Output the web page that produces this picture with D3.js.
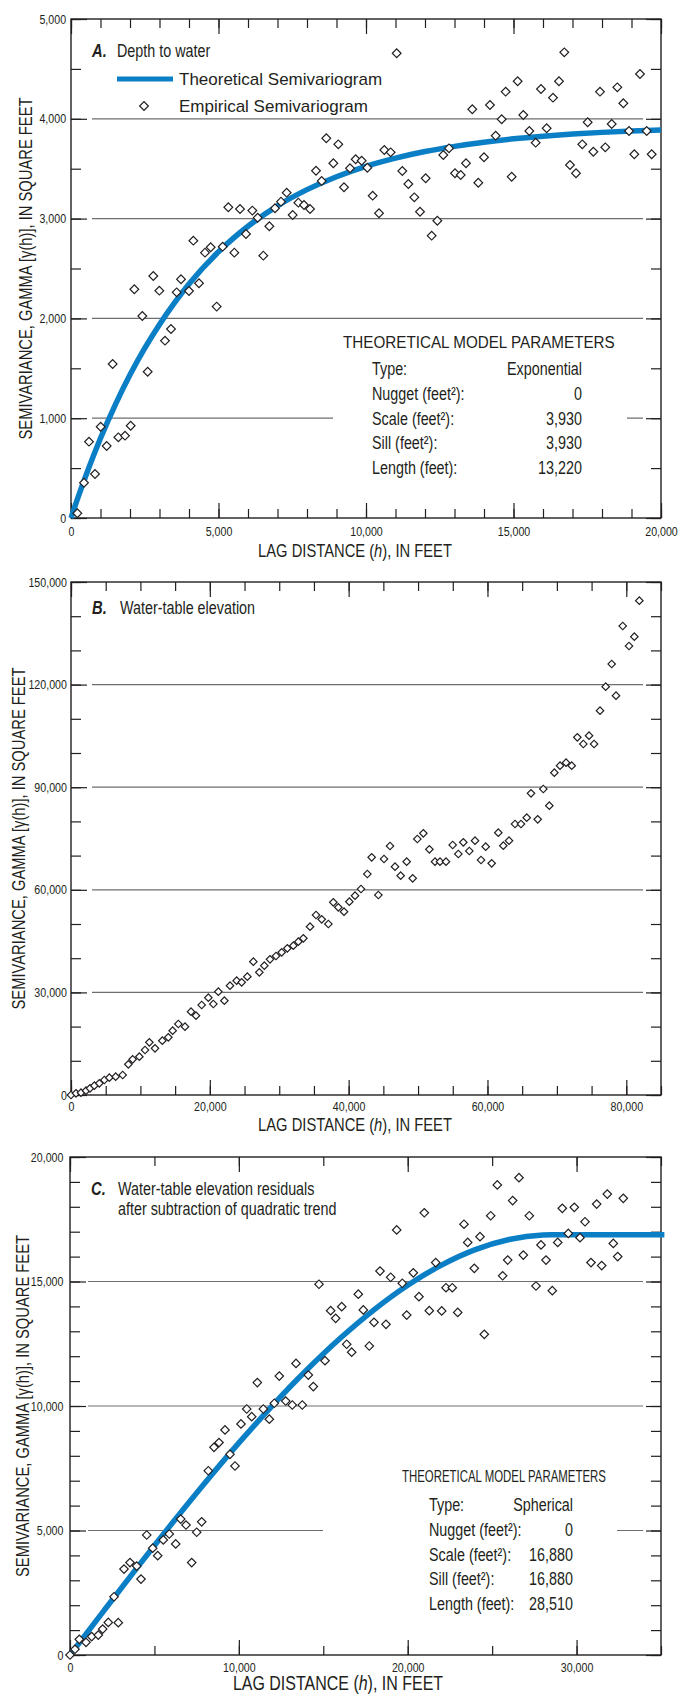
<!DOCTYPE html>
<html>
<head>
<meta charset="utf-8">
<script src="https://cdn.jsdelivr.net/npm/d3@7"></script>
<style>
  body { margin: 0; background: #fff; }
  svg text { font-family: "Liberation Sans", Arial, sans-serif; fill: #231f20; }
  .tick text { font-size: 13px; }
</style>
</head>
<body>
<svg id="fig" width="678" height="1695"></svg>
<script>
// ---- A. depth to water ----
const depthLag = [215,441,610,814,1006,1209,1412,1605,1831,2023,2147,2418,2599,2790,2994,3186,3390,3582,3729,4000,
  4147,4339,4542,4735,4938,5141,5333,5537,5729,5932,6147,6328,6519,6723,6915,7119,7311,7514,7706,7898,
  8102,8305,8497,8654,8893,9061,9254,9458,9650,9853,10045,10226,10441,10621,10836,11040,11231,11435,11638,11831,
  12023,12226,12418,12620,12814,13017,13210,13390,13603,13807,14000,14203,14396,14599,14734,14938,15141,15332,15536,15752,
  15932,16124,16339,16542,16722,16915,17119,17332,17514,17706,17932,18112,18328,18519,18723,18915,19095,19288,19514,19684];
const depthGamma = [47,354,765,441,915,721,1543,808,825,925,2292,2024,1466,2425,2278,1777,1894,2261,2392,2275,
  2779,2352,2659,2713,2118,2719,3113,2659,3096,2846,3080,3009,2629,2923,3103,3170,3260,3036,3160,3136,
  3096,3480,3377,3805,3554,3744,3314,3504,3594,3580,3510,3230,3053,3687,3664,4656,3477,3347,3213,3069,
  3404,2829,2979,3637,3704,3454,3437,3554,4095,3360,3614,4138,3831,3995,4272,3420,4376,4038,3878,3761,
  4299,3905,4212,4376,4666,3537,3454,3744,3965,3670,4272,3714,3948,4315,4155,3878,3644,4449,3878,3644];
const depthModelLag = [0,250,500,1000,1500,2000,2500,3000,3500,4000,5000,6000,7000,8000,9000,10000,11000,12000,13000,14000,15000,16000,17000,18000,19000,20000];
const depthModelGamma = [0,217,421,799,1134,1435,1702,1940,2154,2345,2667,2923,3128,3290,3420,3524,3606,3672,3724,3766,3799,3825,3847,3864,3877,3888];
const depthXTicks = [0,5000,10000,15000,20000];
const depthYTicks = [0,1000,2000,3000,4000,5000];
const depthParams = [["Type:","Exponential"],["Nugget (feet\u00b2):","0"],["Scale (feet\u00b2):","3,930"],["Sill (feet\u00b2):","3,930"],["Length (feet):","13,220"]];

// ---- B. water-table elevation ----
const wteLag = [0,720,1440,2160,2737,3361,4082,4803,5523,6435,7443,8260,8885,9845,10662,11286,12102,13158,14022,14647,
  15462,16424,17288,18009,18826,19787,20507,21228,22093,22908,23868,24589,25404,26268,27133,27854,28670,29535,30352,31168,
  32033,32754,33474,34435,35300,36116,37077,37790,38511,39332,40100,40917,41781,42694,43318,44280,45094,45959,46679,47496,
  48360,49226,49897,50761,51628,52442,53163,54027,54988,55802,56520,57384,58205,59070,59742,60607,61560,62280,63104,63968,
  64832,65654,66273,67238,68046,68910,69634,70454,71320,72136,72946,73811,74633,75353,76213,77032,77897,78519,79485,80392,
  81157,81878];
const wteGamma = [0,500,680,1260,1950,2730,3410,4390,5070,5360,5850,8970,10430,11210,13160,15400,13640,15890,16860,18810,
  20760,19980,24370,23200,26320,28460,26610,30220,27580,31970,33430,32940,34600,38980,35870,37820,39670,40640,41710,42880,
  43660,44830,45810,49220,52630,51360,50000,56340,54870,53600,56520,58290,60230,64620,69500,58480,69010,72810,66760,64130,
  68230,63350,74850,76510,71840,68230,68230,68230,73100,70470,73890,71350,74360,68710,72600,67750,76700,72900,74360,79240,
  79240,81080,88210,80610,89470,84590,94240,96290,97160,96290,104580,102630,105060,102630,112370,119390,126020,116760,137130,131290,
  134010,144540];
const wteXTicks = [0,20000,40000,60000,80000];
const wteYTicks = [0,30000,60000,90000,120000,150000];

// ---- C. residuals ----
const residLag = [0,296,551,948,1285,1676,1936,2268,2606,2860,3198,3553,3950,4205,4542,4897,5194,5525,5880,6259,
  6556,6870,7207,7503,7799,8190,8528,8824,9179,9475,9771,10127,10464,10761,11094,11448,11803,12099,12395,12774,
  13165,13384,13757,14114,14410,14746,15101,15437,15733,16091,16386,16682,17074,17370,17725,18003,18358,18714,18990,19347,
  19679,19940,20330,20668,20982,21278,21657,22013,22267,22640,22961,23333,23551,23942,24281,24535,24914,25306,25622,25921,
  26215,26590,26846,27201,27597,27893,28189,28562,28883,29155,29511,29866,30202,30499,30854,31190,31487,31819,32175,32435,
  32767];
const residGamma = [0,230,630,510,740,800,1040,1310,2340,1300,3450,3710,3570,3050,4820,4290,3990,4620,4860,4460,
  5460,5220,3710,4930,5350,7400,8340,8530,9040,8060,7590,9280,9880,9570,10940,9880,9470,10110,11200,10200,
  10040,11710,10040,11240,10780,14890,11820,13830,13520,13990,12480,12160,14490,13860,12410,13360,15420,13280,15170,17070,
  14930,13650,15350,14390,17760,13830,15760,13820,14750,14750,13760,17300,16570,15530,16800,12880,17640,18880,15230,15860,
  18250,19170,16060,17640,14820,16470,15860,14630,16570,17940,16930,17980,16760,17400,15760,18110,15640,18510,16530,16000,
  18340];
const residModelLag = [0,2000,4000,6000,8000,10000,12000,14000,16000,18000,20000,22000,24000,26000,28000,28510,35200];
const residModelGamma = [0,1773,3529,5250,6918,8517,10028,11434,12718,13862,14849,15660,16280,16689,16872,16880,16880];
const residXTicks = [0,10000,20000,30000];
const residYTicks = [0,5000,10000,15000,20000];
const residParams = [["Type:","Spherical"],["Nugget (feet\u00b2):","0"],["Scale (feet\u00b2):","16,880"],["Sill (feet\u00b2):","16,880"],["Length (feet):","28,510"]];

const ink = "#231f20";
const blue = "#0b7fc6";
const SX = 0.82; // squeeze Liberation Sans to a condensed face
const svg = d3.select("#fig");
const fmt = d3.format(",");

function ntext(g, x, y, size, str, anchor, sx) {
  return g.append("text")
    .attr("transform", `translate(${x},${y}) scale(${sx || SX},1)`)
    .attr("font-size", size)
    .attr("text-anchor", anchor || "start")
    .text(str);
}

function panel(o) {
  const g = svg.append("g");
  const x = d3.scaleLinear().domain([0, o.xMax]).range([o.left, o.right]);
  const y = d3.scaleLinear().domain([0, o.yMax]).range([o.bottom, o.top]);

  // gridlines
  g.selectAll("line.grid").data(o.grid).join("line")
    .attr("class", "grid")
    .attr("x1", o.gridX0).attr("x2", o.right - 18)
    .attr("y1", d => y(d)).attr("y2", d => y(d))
    .attr("stroke", "#6d6e71").attr("stroke-width", 1.2);

  // box for model parameters hides part of a gridline
  if (o.params) {
    const p = o.params;
    g.append("rect").attr("x", p.x0).attr("y", p.y0).attr("width", p.x1 - p.x0).attr("height", p.y1 - p.y0).attr("fill", "#fff");
    const h = ntext(g, p.hx, p.hy, p.hs, "THEORETICAL MODEL PARAMETERS", "start", 1);
    const w = h.node().getComputedTextLength();
    h.attr("transform", `translate(${p.hx},${p.hy}) scale(${p.hw / w},1)`);
    p.rows.forEach((r, i) => {
      ntext(g, p.lx, p.ry + i * p.dy, 17.5, r[0]);
      ntext(g, p.vx, p.ry + i * p.dy, 17.5, r[1], "end");
    });
  }

  const xMinor = d3.range(0, o.xMax + 1, o.xMinorStep);
  const yMinor = d3.range(0, o.yMax + 1, o.yMinorStep);
  const clean = a => a.call(s => s.select(".domain").remove())
    .call(s => s.selectAll("line").attr("stroke", ink).attr("stroke-width", 1.2));

  g.append("g").attr("transform", `translate(0,${o.bottom})`)
    .call(d3.axisBottom(x).tickValues(xMinor).tickSize(-9).tickFormat("")).call(clean);
  g.append("g").attr("transform", `translate(0,${o.bottom})`)
    .call(d3.axisBottom(x).tickValues(o.xTicks).tickSize(-15).tickPadding(o.xPad).tickFormat(fmt)).call(clean);
  g.append("g").attr("transform", `translate(0,${o.top})`)
    .call(d3.axisTop(x).tickValues(xMinor).tickSize(-9).tickFormat("")).call(clean);
  g.append("g").attr("transform", `translate(0,${o.top})`)
    .call(d3.axisTop(x).tickValues(o.xTicks).tickSize(-15).tickFormat("")).call(clean);
  g.append("g").attr("transform", `translate(${o.left},0)`)
    .call(d3.axisLeft(y).tickValues(yMinor).tickSize(-10).tickFormat("")).call(clean);
  g.append("g").attr("transform", `translate(${o.left},0)`)
    .call(d3.axisLeft(y).tickValues(o.yTicks).tickSize(-16).tickPadding(o.yPad).tickFormat(fmt)).call(clean);
  g.append("g").attr("transform", `translate(${o.right},0)`)
    .call(d3.axisRight(y).tickValues(yMinor).tickSize(-10).tickFormat("")).call(clean);
  g.append("g").attr("transform", `translate(${o.right},0)`)
    .call(d3.axisRight(y).tickValues(o.yTicks).tickSize(-15).tickFormat("")).call(clean);
  g.selectAll(".tick text").attr("fill", ink).attr("transform", `scale(${SX},1)`);

  // frame
  g.append("rect").attr("x", o.left).attr("y", o.top)
    .attr("width", o.right - o.left).attr("height", o.bottom - o.top)
    .attr("fill", "none").attr("stroke", ink).attr("stroke-width", 1.4);

  // theoretical curve
  if (o.modelLag) {
    const pts = o.modelLag.map((d, i) => [d, o.modelGamma[i]]);
    g.append("path").datum(pts)
      .attr("d", d3.line().x(d => x(d[0])).y(d => y(d[1])).curve(d3.curveMonotoneX))
      .attr("fill", "none").attr("stroke", blue).attr("stroke-width", 5.5);
  }

  // empirical points
  const pts = o.lag.map((d, i) => [d, o.gamma[i]]);
  g.selectAll("path.pt").data(pts).join("path")
    .attr("class", "pt")
    .attr("d", d3.symbol(d3.symbolSquare, o.mark))
    .attr("transform", d => `translate(${x(d[0])},${y(d[1])}) rotate(45)`)
    .attr("fill", "#fff").attr("stroke", ink).attr("stroke-width", 1.2);

  // panel title
  ntext(g, o.left + 21, o.titleY, 18, o.letter).attr("font-weight", "bold").attr("font-style", "italic");
  o.title.forEach((t, i) => ntext(g, o.titleX, o.titleY + i * 20, 17.5, t));

  // axis titles
  const xt = ntext(g, o.xTitleX, o.xTitleY, o.xTitleSize, null, "middle");
  xt.append("tspan").text("LAG DISTANCE (");
  xt.append("tspan").attr("font-style", "italic").text("h");
  xt.append("tspan").text("), IN FEET");

  g.append("text")
    .attr("transform", `translate(${o.yTitleX},${(o.top + o.bottom) / 2}) rotate(-90) scale(${SX},1)`)
    .attr("font-size", 18).attr("text-anchor", "middle")
    .text("SEMIVARIANCE, GAMMA [\u03b3(h)], IN SQUARE FEET");

  return { g, x, y };
}

const A = panel({
  left: 71, right: 661, top: 19, bottom: 518, xMax: 20000, yMax: 5000,
  xTicks: depthXTicks, yTicks: depthYTicks, xMinorStep: 1000, yMinorStep: 500,
  grid: [1000, 2000, 3000, 4000], gridX0: 92, xPad: 9, yPad: 6,
  lag: depthLag, gamma: depthGamma, modelLag: depthModelLag, modelGamma: depthModelGamma, mark: 38,
  letter: "A.", title: ["Depth to water"], titleX: 117, titleY: 57,
  xTitleX: 355, xTitleY: 557, xTitleSize: 18, yTitleX: 32,
  params: { x0: 333, x1: 627, y0: 330, y1: 492, hx: 343, hy: 348, hs: 17, hw: 272, lx: 372, vx: 582, ry: 375, dy: 24.8, rows: depthParams }
});

// legend of panel A
A.g.append("line").attr("x1", 117).attr("x2", 173).attr("y1", 79).attr("y2", 79)
  .attr("stroke", blue).attr("stroke-width", 5);
A.g.append("path").attr("d", d3.symbol(d3.symbolSquare, 38))
  .attr("transform", "translate(144,106) rotate(45)")
  .attr("fill", "#fff").attr("stroke", ink).attr("stroke-width", 1.2);
A.g.append("text").attr("x", 179).attr("y", 85).attr("font-size", 17).text("Theoretical Semivariogram");
A.g.append("text").attr("x", 179).attr("y", 112).attr("font-size", 17).text("Empirical Semivariogram");

panel({
  left: 71, right: 661, top: 582, bottom: 1095, xMax: 85000, yMax: 150000,
  xTicks: wteXTicks, yTicks: wteYTicks, xMinorStep: 5000, yMinorStep: 10000,
  grid: [30000, 60000, 90000, 120000], gridX0: 92, xPad: 7, yPad: 5,
  lag: wteLag, gamma: wteGamma, mark: 28,
  letter: "B.", title: ["Water-table elevation"], titleX: 120, titleY: 614,
  xTitleX: 355, xTitleY: 1131, xTitleSize: 18, yTitleX: 25
});

panel({
  left: 70, right: 661, top: 1157, bottom: 1655, xMax: 35000, yMax: 20000,
  xTicks: residXTicks, yTicks: residYTicks, xMinorStep: 5000, yMinorStep: 1000,
  grid: [5000, 10000, 15000], gridX0: 88, xPad: 8, yPad: 8,
  lag: residLag, gamma: residGamma, modelLag: residModelLag, modelGamma: residModelGamma, mark: 36,
  letter: "C.", title: ["Water-table elevation residuals", "after subtraction of quadratic trend"], titleX: 118, titleY: 1195,
  xTitleX: 338, xTitleY: 1690, xTitleSize: 19.5, yTitleX: 29,
  params: { x0: 323, x1: 617, y0: 1455, y1: 1628, hx: 402, hy: 1482, hs: 16.5, hw: 204, lx: 429, vx: 573, ry: 1511, dy: 24.8, rows: residParams }
});
</script>
</body>
</html>
